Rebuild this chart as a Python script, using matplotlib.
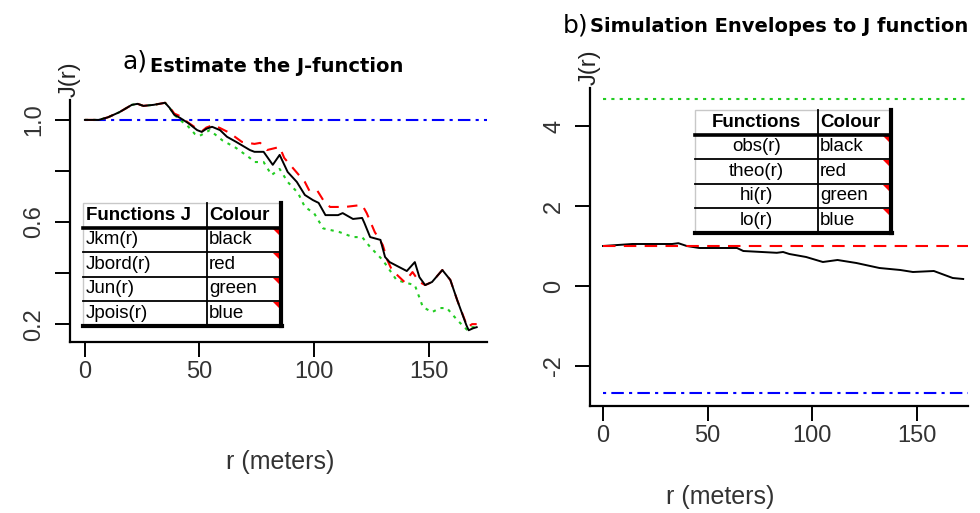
import numpy as np
import matplotlib.pyplot as plt
from matplotlib.patches import Rectangle, Polygon
from matplotlib.lines import Line2D

# ---- panel a: J-function estimates ----
r_km = [0, 6, 10, 15, 20.5, 23, 25.5, 30, 35, 37, 39, 41.5, 45, 49, 51, 53, 55.5, 59, 62, 66,
        72, 74, 78, 82, 85, 88.5, 92.5, 96, 99.5, 102, 105, 110.5, 112.5, 117, 121, 122, 124.5,
        129, 131, 133, 140.5, 144, 146, 148.5, 151.5, 156, 159.5, 162.5, 166.5, 167.5, 169.5, 171]
j_km = [1.0, 1.0, 1.01, 1.03, 1.059, 1.063, 1.055, 1.059, 1.067, 1.047, 1.02, 1.008, 0.988, 0.96,
        0.953, 0.965, 0.973, 0.96, 0.934, 0.914, 0.882, 0.875, 0.875, 0.824, 0.863, 0.796, 0.757,
        0.706, 0.686, 0.675, 0.627, 0.627, 0.635, 0.612, 0.616, 0.596, 0.541, 0.53, 0.463, 0.443,
        0.408, 0.443, 0.384, 0.353, 0.365, 0.412, 0.373, 0.294, 0.196, 0.176, 0.184, 0.188]

r_bord = [0, 6, 10, 15, 20.5, 23, 25.5, 30, 35, 37, 39, 41.5, 45, 49, 51, 53, 56, 59, 63, 68.5,
          74, 76.5, 79.5, 85, 87, 91.5, 96, 98, 101.5, 104, 107, 113.5, 121, 123, 126.5, 130, 132,
          134, 139.5, 143, 146, 148.5, 151.5, 156, 159.5, 162.5, 167, 169, 171]
j_bord = [1.0, 1.0, 1.01, 1.03, 1.059, 1.063, 1.055, 1.059, 1.067, 1.05, 1.025, 1.015, 0.99, 0.965,
          0.955, 0.97, 0.98, 0.968, 0.95, 0.914, 0.906, 0.91, 0.882, 0.894, 0.851, 0.804, 0.757,
          0.722, 0.722, 0.686, 0.659, 0.659, 0.667, 0.635, 0.561, 0.51, 0.451, 0.412, 0.365, 0.404,
          0.365, 0.353, 0.365, 0.412, 0.373, 0.294, 0.188, 0.2, 0.2]

r_un = [0, 6, 10, 15, 20.5, 23, 25.5, 30, 35, 37, 39, 41.5, 45, 48, 50, 54.5, 60, 66, 72, 74, 78,
        81.5, 85, 88.5, 93, 96, 100, 104, 111, 117, 121, 124.5, 130, 133, 136, 140.5, 144, 147.5,
        151.5, 155, 158, 162.5, 167, 169, 171]
j_un = [1.0, 1.0, 1.01, 1.03, 1.059, 1.063, 1.055, 1.059, 1.067, 1.047, 1.02, 1.0, 0.975, 0.945,
        0.937, 0.96, 0.92, 0.89, 0.851, 0.835, 0.835, 0.784, 0.808, 0.757, 0.714, 0.659, 0.635,
        0.575, 0.561, 0.541, 0.541, 0.502, 0.451, 0.412, 0.373, 0.361, 0.353, 0.267, 0.247, 0.263,
        0.263, 0.216, 0.176, 0.188, 0.188]

r_pois = [0, 176]
j_pois = [1.0, 1.0]

# ---- panel b: envelopes ----
r_obs = [0, 14, 33, 36, 40, 46, 64, 67, 83, 86, 89, 97, 105, 112, 121, 132, 142, 148, 158, 167, 172]
j_obs = [1.0, 1.05, 1.05, 1.07, 1.0, 0.95, 0.95, 0.875, 0.83, 0.85, 0.8, 0.725, 0.6, 0.65, 0.575,
         0.45, 0.4, 0.35, 0.375, 0.2, 0.175]
r_env = [0, 176]
j_theo = [1.0, 1.0]
j_hi = [4.67, 4.67]
j_lo = [-2.68, -2.68]

table_a = [("Functions J", "Colour"), ("Jkm(r)", "black"), ("Jbord(r)", "red"),
           ("Jun(r)", "green"), ("Jpois(r)", "blue")]
table_b = [("Functions", "Colour"), ("obs(r)", "black"), ("theo(r)", "red"),
           ("hi(r)", "green"), ("lo(r)", "blue")]

W, H = 980, 513
plt.rcParams['axes.unicode_minus'] = False
tick_font = 'Liberation Sans'
RED, GREEN, BLUE = '#ff0000', '#22cc22', '#0000ff'

fig = plt.figure(figsize=(W / 100, H / 100), dpi=100)


def fx(x):
    return x / W


def fy(y):
    return 1 - y / H


def box(x0, y0, x1, y1):
    return [fx(x0), fy(y1), fx(x1) - fx(x0), fy(y0) - fy(y1)]


def style_axes(ax):
    for s in ['top', 'right']:
        ax.spines[s].set_visible(False)
    for s in ['left', 'bottom']:
        ax.spines[s].set_linewidth(1.6)
    ax.tick_params(length=11, width=1.4, direction='out', colors='black', labelcolor='#333333')
    ax.tick_params(axis='x', pad=3)
    ax.tick_params(axis='y', pad=7)
    for lab in ax.get_xticklabels() + ax.get_yticklabels():
        lab.set_family(tick_font)
        lab.set_fontsize(17)
    for lab in ax.get_yticklabels():
        lab.set_rotation(90)
        lab.set_va('center')


def draw_table(rows, x0, xs, x1, y0, row_h, center_first):
    n = len(rows)
    y1 = y0 + row_h * n
    t = fig.transFigure
    fig.patches.append(Rectangle((fx(x0), fy(y1)), fx(x1) - fx(x0), fy(y0) - fy(y1),
                                 transform=t, facecolor='white', edgecolor='#c8c8c8', lw=1.0))
    # row separators
    for i in range(1, n):
        yy = y0 + row_h * i
        lw = 2.6 if i == 1 else 1.3
        fig.lines.append(Line2D([fx(x0), fx(x1)], [fy(yy), fy(yy)], transform=t,
                                color='black', lw=lw))
    fig.lines.append(Line2D([fx(xs), fx(xs)], [fy(y0), fy(y1)], transform=t, color='black', lw=1.3))
    # thick shadow right and bottom
    fig.lines.append(Line2D([fx(x1), fx(x1)], [fy(y0), fy(y1)], transform=t, color='black', lw=3))
    fig.lines.append(Line2D([fx(x0), fx(x1) + 0.001], [fy(y1), fy(y1)], transform=t,
                            color='black', lw=3))
    for i, (a, b) in enumerate(rows):
        yc = fy(y0 + row_h * (i + 0.5))
        bold = 'bold' if i == 0 else 'normal'
        size = 13.5
        if center_first:
            fig.text(fx((x0 + xs) / 2), yc, a, ha='center', va='center', fontsize=size,
                     weight=bold, family='Liberation Sans')
        else:
            fig.text(fx(x0 + 3), yc, a, ha='left', va='center', fontsize=size,
                     weight=bold, family='Liberation Sans')
        fig.text(fx(xs + 2), yc, b, ha='left', va='center', fontsize=size,
                 weight=bold, family='Liberation Sans')
        if i > 0:
            ytop = y0 + row_h * i + 1
            fig.patches.append(Polygon([(fx(x1 - 8), fy(ytop)), (fx(x1 - 1), fy(ytop)),
                                        (fx(x1 - 1), fy(ytop + 7))], closed=True,
                                       transform=t, facecolor=RED, edgecolor='none'))


# ---- left panel ----
ax1 = fig.add_axes(box(70, 100, 487, 342))
ax1.plot(r_pois, j_pois, color=BLUE, lw=1.5, dashes=(1.5, 2.5, 6, 2.5))
ax1.plot(r_un, j_un, color=GREEN, lw=1.5, dashes=(1.5, 2.5))
ax1.plot(r_bord, j_bord, color=RED, lw=1.5, dashes=(5, 4))
ax1.plot(r_km, j_km, color='black', lw=1.4)
ax1.set_xlim(-6.5, 175.5)
ax1.set_ylim(0.13, 1.078)
ax1.set_xticks([0, 50, 100, 150])
ax1.set_yticks([0.2, 0.4, 0.6, 0.8, 1.0])
ax1.set_yticklabels(['0.2', '', '0.6', '', '1.0'])
style_axes(ax1)

# ---- right panel ----
ax2 = fig.add_axes(box(590, 88, 968, 406))
ax2.plot(r_env, j_hi, color=GREEN, lw=1.5, dashes=(1.5, 2.5))
ax2.plot(r_env, j_lo, color=BLUE, lw=1.5, dashes=(1.5, 2.5, 6, 2.5))
ax2.plot(r_obs, j_obs, color='black', lw=1.4)
ax2.plot(r_env, j_theo, color=RED, lw=1.5, dashes=(6, 4))
ax2.set_xlim(-6.2, 174.3)
ax2.set_ylim(-3.0, 4.95)
ax2.set_xticks([0, 50, 100, 150])
ax2.set_yticks([-2, 0, 2, 4])
style_axes(ax2)

# ---- axis labels and titles ----
fig.text(fx(70), fy(79), 'J(r)', rotation=90, ha='center', va='center', fontsize=17,
         family=tick_font, color='#222222')
fig.text(fx(590), fy(67), 'J(r)', rotation=90, ha='center', va='center', fontsize=17,
         family=tick_font, color='#222222')
fig.text(fx(280), fy(462), 'r (meters)', ha='center', va='center', fontsize=18, family=tick_font,
         color='#333333')
fig.text(fx(720), fy(497), 'r (meters)', ha='center', va='center', fontsize=18, family=tick_font,
         color='#333333')

fig.text(fx(122), fy(61), 'a)', ha='left', va='center', fontsize=18)
fig.text(fx(150), fy(67), 'Estimate the J-function', ha='left', va='center', fontsize=14,
         weight='bold')
fig.text(fx(563), fy(25), 'b)', ha='left', va='center', fontsize=18)
fig.text(fx(590), fy(26), 'Simulation Envelopes to J function', ha='left', va='center',
         fontsize=14, weight='bold')

draw_table(table_a, 83, 207, 281, 203, 24.5, False)
draw_table(table_b, 695, 818, 891, 110, 24.5, True)

fig.savefig('out.png', dpi=100)
